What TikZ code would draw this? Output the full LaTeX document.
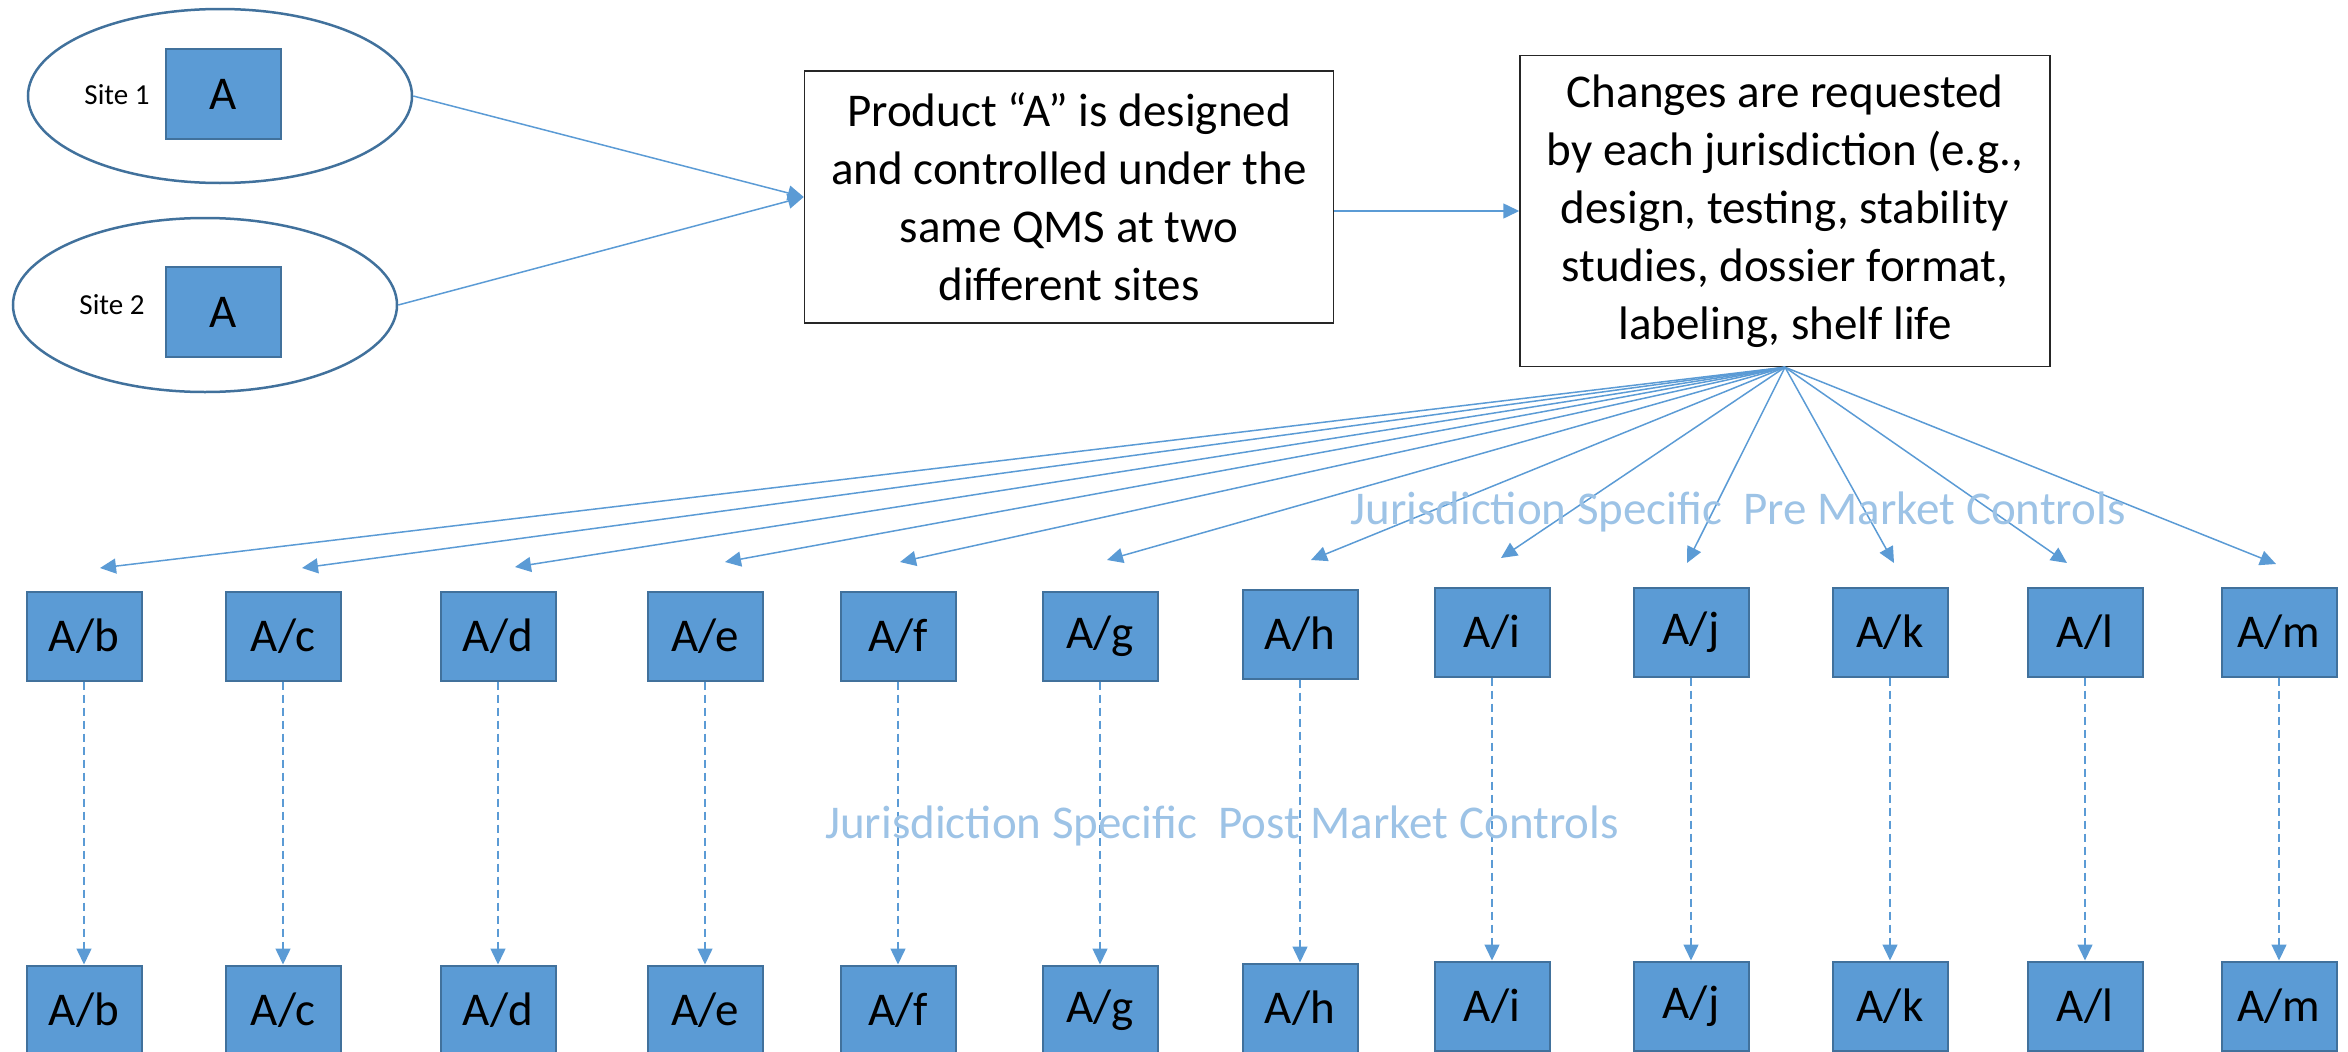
\documentclass[tikz,border=0pt]{standalone}
\usepackage{fontspec}
\setmainfont{Carlito}
\usetikzlibrary{shapes.geometric, arrows.meta, positioning}
\definecolor{boxBlue}{HTML}{5B9BD5}
\definecolor{edgeBlue}{HTML}{41719C}
\definecolor{labelBlue}{HTML}{9DC3E6}

\begin{document}
\begin{tikzpicture}[
    x=1pt, y=-1pt,
    big/.style={font=\fontsize{47}{58}\selectfont},
    site/.style={ellipse, draw=edgeBlue, line width=2.5pt, minimum width=384pt, minimum height=174pt},
    cell/.style={rectangle, draw=edgeBlue, fill=boxBlue, line width=2pt, minimum width=115pt, minimum height=89pt, inner sep=0pt, big},
    card/.style={rectangle, draw=black!85, line width=1.5pt, align=center, inner sep=0pt, big},
    link/.style={draw=boxBlue, line width=1.5pt, -{Triangle[length=16pt,width=15pt]}},
    tag/.style={text=labelBlue, big}
]
    \useasboundingbox (0,0) rectangle (2348,1052);

    % two sites, same product
    \node[site] (s1) at (220,96) {};
    \node[site] (s2) at (205,305) {};
    \node[cell, minimum height=90pt] (a1) at (223,94) {A};
    \node[cell, minimum height=90pt] (a2) at (223,312) {A};
    \node[font=\fontsize{29}{35}\selectfont] (l1) at (117,95) {Site 1};
    \node[font=\fontsize{29}{35}\selectfont] (l2) at (112,305) {Site 2};

    \node[card, minimum width=529pt, minimum height=252pt] (prod) at (1069,197)
        {Product “A” is designed\\ and controlled under the\\ same QMS at two\\ different sites};
    \node[card, minimum width=530pt, minimum height=311pt] (chg) at (1785,211)
        {Changes are requested\\ by each jurisdiction (e.g.,\\ design, testing, stability\\ studies, dossier format,\\ labeling, shelf life};

    \draw[link] (s1.east) -- (prod.west);
    \draw[link] (s2.east) -- (prod.west);
    \draw[link] (prod.east |- chg.west) -- (chg.west);

    % one column per jurisdiction
    \foreach \n/\x/\y/\tx/\ty in {b/84/636/100/568, c/283/636/302/568, d/498/636/515/567,
        e/705/636/725/562, f/898/636/900/562, g/1100/636/1107/560, h/1300/634/1311/560,
        i/1492/632/1501/558, j/1691/632/1687/563, k/1890/632/1894/563, l/2085/632/2067/563,
        m/2279/632/2276/564} {
        \node[cell] (pre\n) at (\x,\y) {A/\n};
        \node[cell, below=283pt of pre\n] (post\n) {A/\n};
        \coordinate (tip\n) at (\tx,\ty);
        \draw[link] (chg.south) -- (tip\n);
        \draw[link, dash pattern=on 8pt off 5pt] (pre\n.south) -- (post\n.north);
    }

    \node[tag] (premkt) at (1738,512) {Jurisdiction Specific\ \ Pre Market Controls};
    \node[tag] (postmkt) at (1222,826) {Jurisdiction Specific\ \ Post Market Controls};
\end{tikzpicture}
\end{document}
